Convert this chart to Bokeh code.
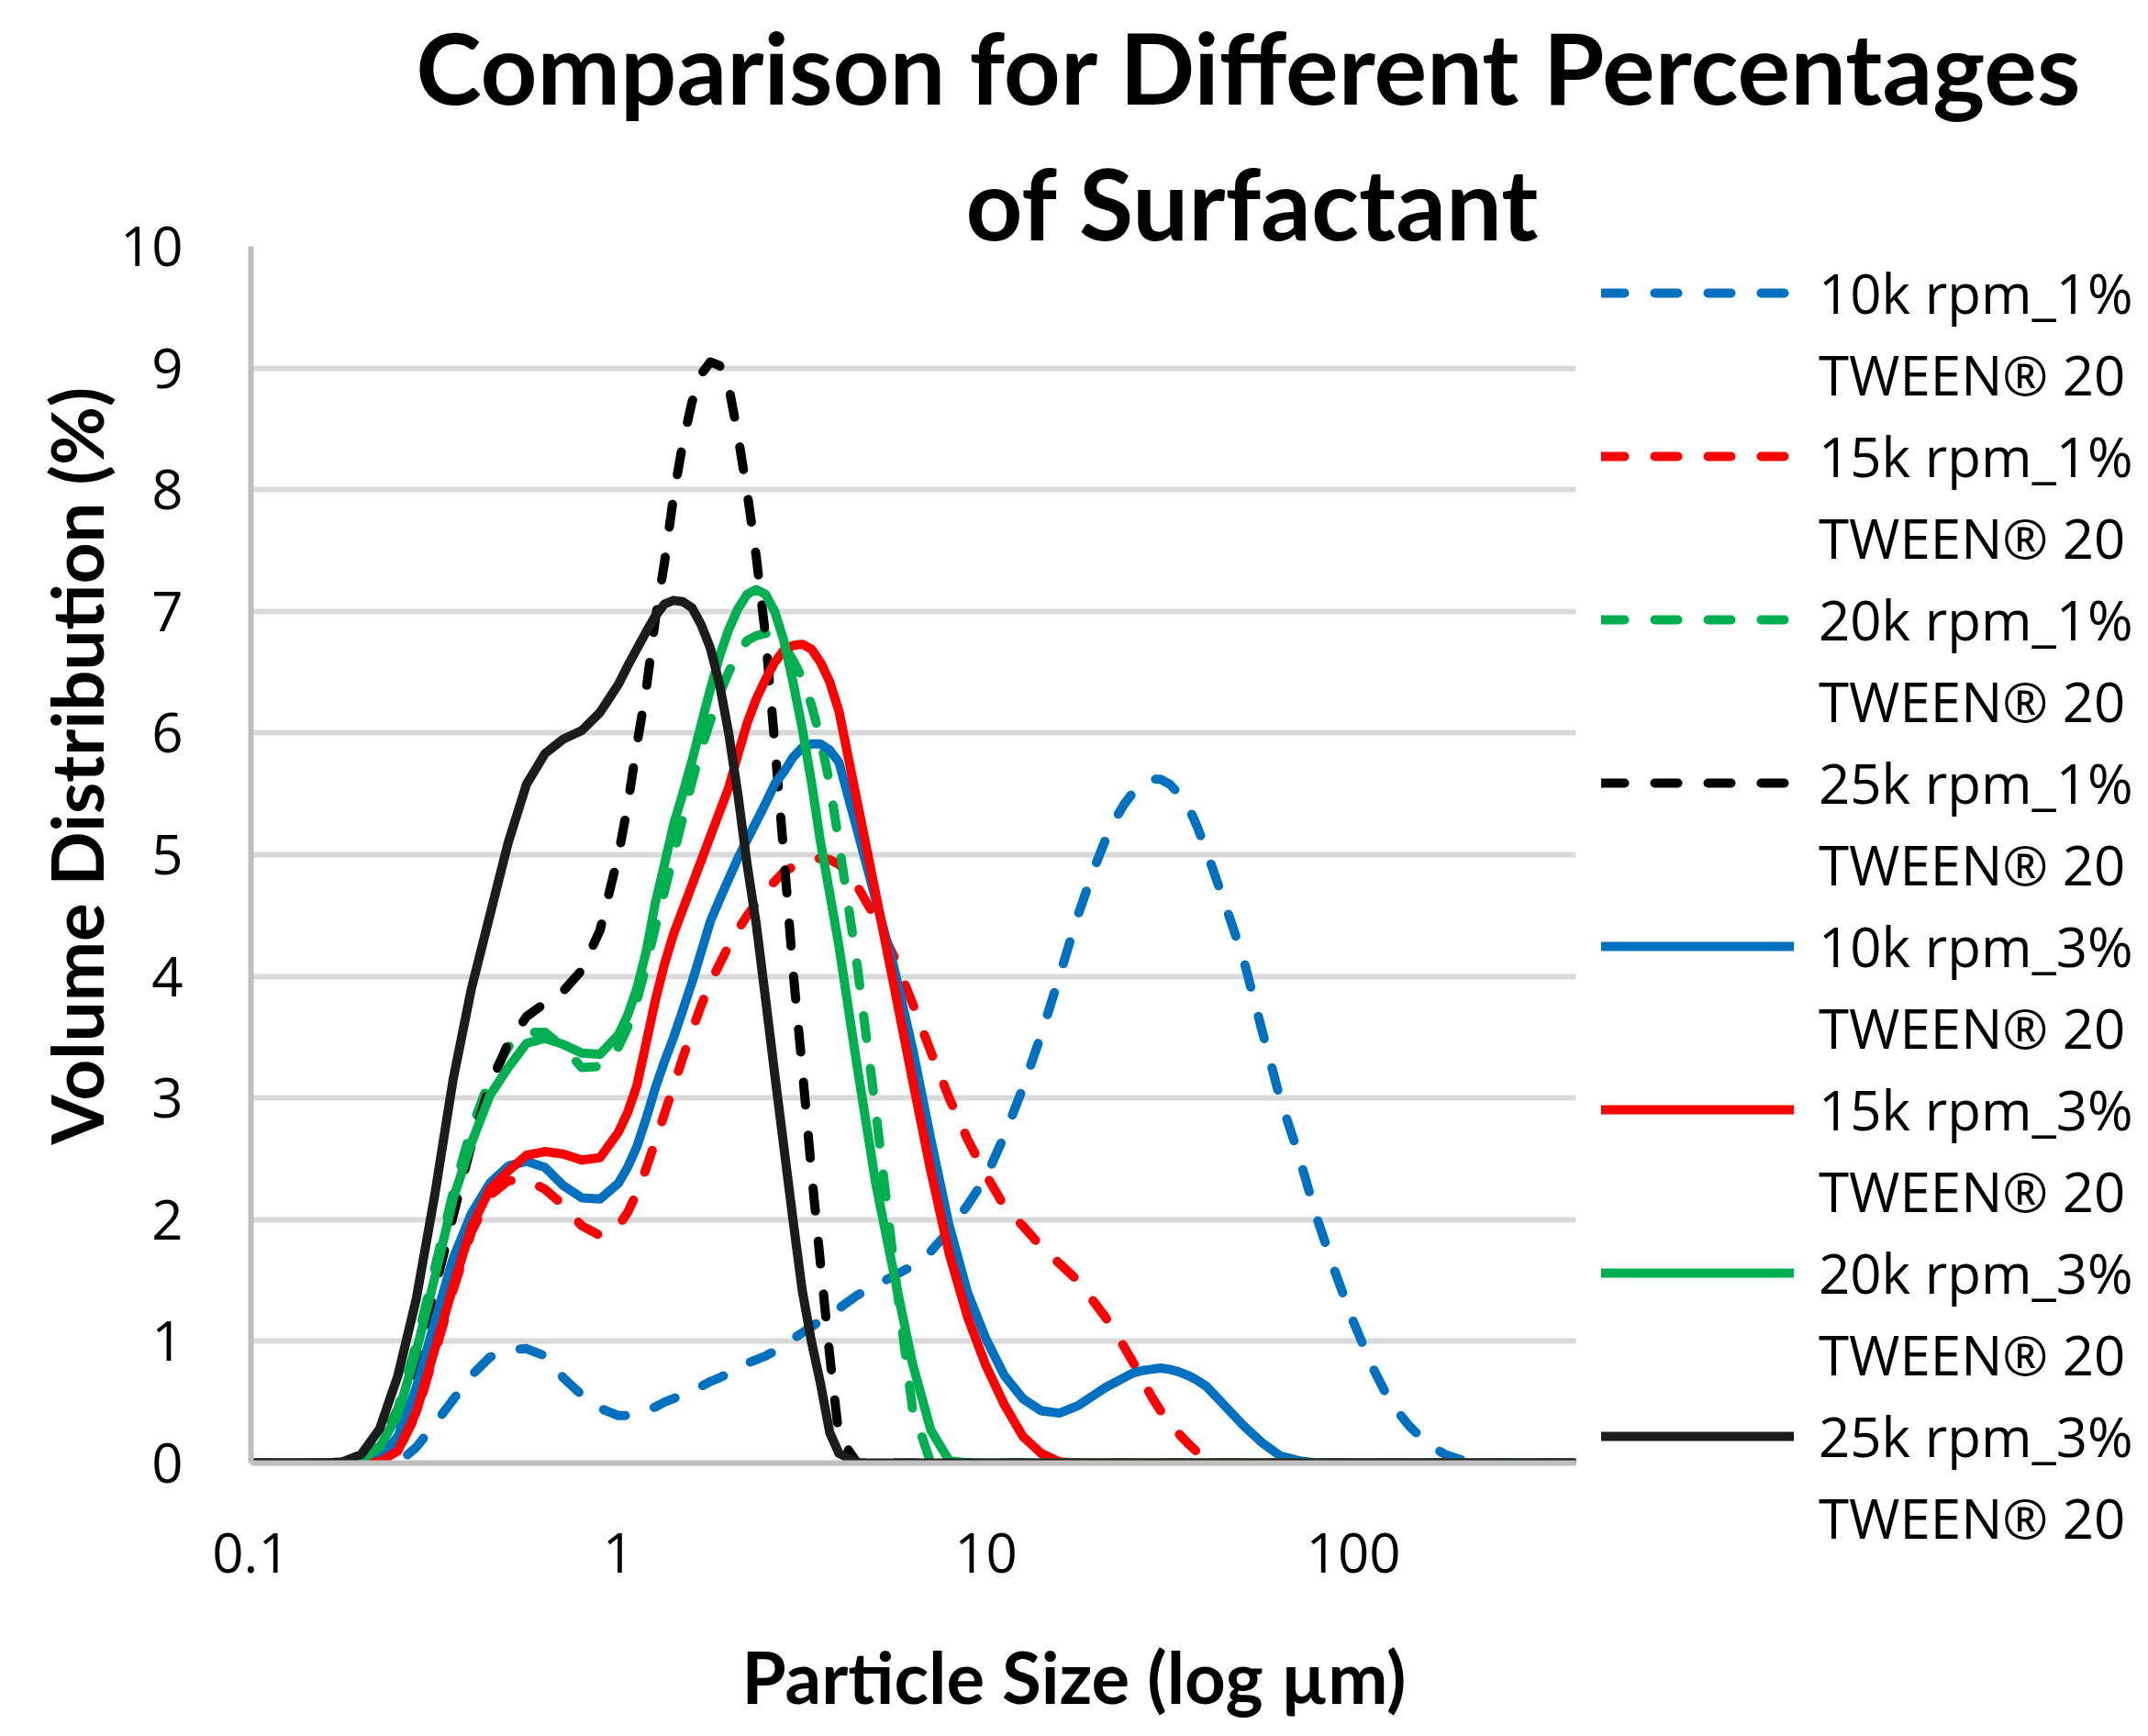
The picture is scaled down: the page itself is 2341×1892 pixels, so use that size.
from bokeh.plotting import figure
from bokeh.layouts import column, row
from bokeh.models import Legend, LegendItem, Title, Label, FixedTicker, Range1d
from bokeh.embed import file_html
from bokeh.resources import INLINE

# ---------------- data ----------------
sizes_um = [0.1, 0.1122, 0.1259, 0.1413, 0.1585, 0.1778, 0.1995, 0.2239, 0.2512, 0.2818,
            0.3162, 0.3548, 0.3981, 0.4467, 0.5012, 0.5623, 0.631, 0.7079, 0.7943, 0.8913,
            1.0, 1.059, 1.122, 1.189, 1.259, 1.334, 1.413, 1.496, 1.585, 1.679,
            1.778, 1.884, 1.995, 2.113, 2.239, 2.371, 2.512, 2.661, 2.818, 2.985,
            3.162, 3.35, 3.548, 3.758, 3.981, 4.467, 5.012, 5.623, 6.31, 7.079,
            7.943, 8.913, 10.0, 11.22, 12.59, 14.13, 15.85, 17.78, 19.95, 21.13,
            22.39, 23.71, 25.12, 26.61, 28.18, 29.85, 31.62, 33.5, 35.48, 37.58,
            39.81, 44.67, 50.12, 56.23, 63.1, 70.79, 79.43, 89.13, 100.0, 112.2,
            125.9, 141.3, 158.5, 177.8, 199.5, 223.9, 251.2, 281.8, 316.2, 354.8,
            398.1]

rpm10k_1pct = [0, 0, 0, 0, 0, 0, 0, 0, 0, 0.13,
               0.32, 0.52, 0.72, 0.87, 0.93, 0.94, 0.88, 0.7, 0.56, 0.45,
               0.39, 0.39, 0.4, 0.43, 0.46, 0.5, 0.53, 0.56, 0.6, 0.63,
               0.67, 0.7, 0.74, 0.78, 0.82, 0.85, 0.88, 0.92, 0.97, 1.02,
               1.07, 1.12, 1.17, 1.22, 1.27, 1.38, 1.46, 1.54, 1.62, 1.74,
               1.91, 2.12, 2.35, 2.69, 3.08, 3.52, 4.0, 4.5, 4.93, 5.12,
               5.28, 5.41, 5.51, 5.58, 5.62, 5.62, 5.58, 5.5, 5.4, 5.23,
               5.03, 4.6, 4.15, 3.57, 3.0, 2.54, 2.02, 1.57, 1.16, 0.8,
               0.5, 0.31, 0.16, 0.07, 0.02, 0, 0, 0, 0, 0,
               0]

rpm15k_1pct = [0, 0, 0, 0, 0, 0, 0, 0.01, 0.1, 0.4,
               0.9, 1.42, 1.9, 2.2, 2.32, 2.33, 2.25, 2.12, 1.95, 1.87,
               1.95, 2.06, 2.22, 2.42, 2.64, 2.87, 3.1, 3.33, 3.55, 3.76,
               3.95, 4.1, 4.25, 4.38, 4.5, 4.6, 4.7, 4.78, 4.86, 4.9,
               4.94, 4.96, 4.97, 4.96, 4.92, 4.74, 4.48, 4.16, 3.78, 3.38,
               3.0, 2.66, 2.37, 2.11, 1.95, 1.78, 1.64, 1.5, 1.3, 1.2,
               1.08, 0.96, 0.83, 0.69, 0.55, 0.43, 0.33, 0.24, 0.16, 0.09,
               0.04, 0, 0, 0, 0, 0, 0, 0, 0, 0,
               0, 0, 0, 0, 0, 0, 0, 0, 0, 0,
               0]

rpm20k_1pct = [0, 0, 0, 0, 0, 0, 0.03, 0.15, 0.45, 0.98,
               1.6, 2.22, 2.75, 3.15, 3.42, 3.54, 3.54, 3.42, 3.25, 3.26,
               3.42, 3.58, 3.8, 4.08, 4.4, 4.7, 5.0, 5.3, 5.6, 5.87,
               6.1, 6.32, 6.5, 6.65, 6.76, 6.8, 6.82, 6.78, 6.72, 6.6,
               6.45, 6.23, 5.95, 5.58, 5.1, 4.08, 2.9, 1.62, 0.45, 0,
               0, 0, 0, 0, 0, 0, 0, 0, 0, 0,
               0, 0, 0, 0, 0, 0, 0, 0, 0, 0,
               0, 0, 0, 0, 0, 0, 0, 0, 0, 0,
               0, 0, 0, 0, 0, 0, 0, 0, 0, 0,
               0]

rpm25k_1pct = [0, 0, 0, 0, 0, 0, 0.01, 0.12, 0.4, 0.84,
               1.42, 2.03, 2.62, 3.1, 3.45, 3.67, 3.78, 3.88, 4.05, 4.38,
               5.0, 5.4, 5.9, 6.35, 6.93, 7.4, 7.95, 8.38, 8.72, 8.95,
               9.05, 9.02, 8.85, 8.45, 7.98, 7.45, 6.8, 5.92, 5.0, 4.05,
               3.25, 2.4, 1.63, 0.88, 0.22, 0, 0, 0, 0, 0,
               0, 0, 0, 0, 0, 0, 0, 0, 0, 0,
               0, 0, 0, 0, 0, 0, 0, 0, 0, 0,
               0, 0, 0, 0, 0, 0, 0, 0, 0, 0,
               0, 0, 0, 0, 0, 0, 0, 0, 0, 0,
               0]

rpm10k_3pct = [0, 0, 0, 0, 0, 0, 0, 0.04, 0.22, 0.62,
               1.16, 1.68, 2.05, 2.3, 2.44, 2.48, 2.43, 2.28, 2.18, 2.17,
               2.3, 2.43, 2.6, 2.83, 3.08, 3.3, 3.5, 3.72, 3.95, 4.2,
               4.45, 4.63, 4.8, 4.97, 5.12, 5.27, 5.42, 5.58, 5.68, 5.8,
               5.88, 5.91, 5.91, 5.86, 5.76, 5.2, 4.63, 4.07, 3.41, 2.66,
               1.95, 1.4, 1.02, 0.72, 0.53, 0.43, 0.41, 0.47, 0.57, 0.62,
               0.66, 0.7, 0.74, 0.76, 0.77, 0.78, 0.77, 0.75, 0.72, 0.68,
               0.63, 0.47, 0.31, 0.17, 0.06, 0.02, 0, 0, 0, 0,
               0, 0, 0, 0, 0, 0, 0, 0, 0, 0,
               0]

rpm15k_3pct = [0, 0, 0, 0, 0, 0, 0, 0.01, 0.1, 0.42,
               0.93, 1.45, 1.94, 2.25, 2.4, 2.53, 2.56, 2.54, 2.49, 2.51,
               2.72, 2.88, 3.1, 3.45, 3.8, 4.1, 4.35, 4.55, 4.75, 4.95,
               5.15, 5.35, 5.55, 5.82, 6.08, 6.28, 6.44, 6.58, 6.68, 6.72,
               6.73, 6.69, 6.58, 6.42, 6.18, 5.43, 4.68, 3.92, 3.15, 2.4,
               1.72, 1.2, 0.8, 0.48, 0.22, 0.08, 0.01, 0, 0, 0,
               0, 0, 0, 0, 0, 0, 0, 0, 0, 0,
               0, 0, 0, 0, 0, 0, 0, 0, 0, 0,
               0, 0, 0, 0, 0, 0, 0, 0, 0, 0,
               0]

rpm20k_3pct = [0, 0, 0, 0, 0, 0, 0.02, 0.13, 0.4, 0.92,
               1.52, 2.17, 2.63, 3.02, 3.25, 3.45, 3.49, 3.44, 3.37, 3.36,
               3.52, 3.68, 3.9, 4.2, 4.6, 4.92, 5.25, 5.5, 5.77, 6.07,
               6.36, 6.63, 6.85, 7.02, 7.14, 7.18, 7.14, 7.0, 6.76, 6.42,
               6.04, 5.6, 5.1, 4.68, 4.25, 3.25, 2.3, 1.55, 0.82, 0.27,
               0.02, 0, 0, 0, 0, 0, 0, 0, 0, 0,
               0, 0, 0, 0, 0, 0, 0, 0, 0, 0,
               0, 0, 0, 0, 0, 0, 0, 0, 0, 0,
               0, 0, 0, 0, 0, 0, 0, 0, 0, 0,
               0]

rpm25k_3pct = [0, 0, 0, 0, 0, 0.01, 0.07, 0.28, 0.72, 1.35,
               2.2, 3.15, 3.9, 4.5, 5.1, 5.58, 5.83, 5.95, 6.02, 6.17,
               6.4, 6.55, 6.69, 6.83, 6.96, 7.06, 7.09, 7.08, 7.03, 6.89,
               6.7, 6.4, 6.0, 5.5, 4.92, 4.43, 3.82, 3.2, 2.6, 2.0,
               1.42, 1.0, 0.65, 0.25, 0.08, 0, 0, 0, 0, 0,
               0, 0, 0, 0, 0, 0, 0, 0, 0, 0,
               0, 0, 0, 0, 0, 0, 0, 0, 0, 0,
               0, 0, 0, 0, 0, 0, 0, 0, 0, 0,
               0, 0, 0, 0, 0, 0, 0, 0, 0, 0,
               0]

series_names = ["10k rpm_1%", "15k rpm_1%", "20k rpm_1%", "25k rpm_1%",
                "10k rpm_3%", "15k rpm_3%", "20k rpm_3%", "25k rpm_3%"]
surfactant = "TWEEN® 20"
x_ticks = [0.1, 1, 10, 100]
x_tick_labels = ["0.1", "1", "10", "100"]
y_ticks = [0, 1, 2, 3, 4, 5, 6, 7, 8, 9, 10]
title_lines = ["Comparison for Different Percentages", "of Surfactant"]
x_title = "Particle Size (log µm)"
y_title = "Volume Distribution (%)"

# ---------------- layout (page pixels) ----------------
PAGE_W, PAGE_H = 2333, 1892
TOP_H = 140                     # strip holding the first title line
FL, FR, FT, FB = 273, 1717, 268, 1594   # plot frame edges on the page
MAIN_W = 1728
BODY_H = PAGE_H - TOP_H
LEG_W = PAGE_W - MAIN_W
X0, X1 = 0.1, 403.0
LW = 10

FONT = "Open Sans"
TFONT = "Lato"

styles = [
    (rpm10k_1pct, "#0070C0", "25 33"),
    (rpm15k_1pct, "#FF0000", "25 33"),
    (rpm20k_1pct, "#00B050", "25 33"),
    (rpm25k_1pct, "#000000", "25 33"),
    (rpm10k_3pct, "#0070C0", "solid"),
    (rpm15k_3pct, "#FF0000", "solid"),
    (rpm20k_3pct, "#00B050", "solid"),
    (rpm25k_3pct, "#1C1C1C", "solid"),
]
for vals, _, _ in styles:
    if len(vals) != len(sizes_um):
        raise ValueError("series length mismatch")


def no_frame_align(fig):
    try:
        fig.frame_align = False
    except AttributeError:
        pass


# ---- title strip (first line) ----
top = figure(width=PAGE_W, height=TOP_H, x_range=Range1d(0, PAGE_W), y_range=Range1d(TOP_H, 0),
             x_axis_location=None, y_axis_location=None, min_border=0,
             output_backend="svg", toolbar_location=None)
top.outline_line_color = None
top.xgrid.visible = False
top.ygrid.visible = False
top.add_layout(Label(x=1361, y=110 - 39, text=title_lines[0], text_align="center",
                     text_baseline="alphabetic", text_font=TFONT, text_font_style="bold",
                     text_font_size="108px", text_color="black"))
no_frame_align(top)

# ---- main plot ----
p = figure(width=MAIN_W, height=BODY_H, x_axis_type="log",
           x_range=Range1d(X0, X1), y_range=Range1d(0, 10),
           output_backend="svg", toolbar_location=None,
           min_border_left=FL, min_border_right=MAIN_W - FR,
           min_border_top=FT - TOP_H, min_border_bottom=PAGE_H - FB)
p.outline_line_color = None
no_frame_align(p)

p.xaxis.ticker = FixedTicker(ticks=x_ticks)
p.xaxis.major_label_overrides = {t: s for t, s in zip(x_ticks, x_tick_labels)}
p.yaxis.ticker = FixedTicker(ticks=y_ticks)
for ax in (p.xaxis, p.yaxis):
    ax.axis_line_color = "#BFBFBF"
    ax.axis_line_width = 6
    ax.major_tick_line_color = None
    ax.minor_tick_line_color = None
    ax.major_label_text_font = FONT
    ax.major_label_text_font_size = "60px"
    ax.major_label_text_color = "black"
p.xaxis.major_label_standoff = 70
p.yaxis.major_label_standoff = 68
p.xgrid.visible = False
p.ygrid.ticker = FixedTicker(ticks=y_ticks)
p.ygrid.grid_line_color = "#D9D9D9"
p.ygrid.grid_line_width = 6

for vals, col, dash in styles:
    p.line(sizes_um, vals, line_color=col, line_width=LW, line_dash=dash,
           line_cap="round", line_join="round")

# second title line, above the frame
p.add_layout(Title(text=title_lines[1], align="left", offset=1052 - FL,
                   text_font=TFONT, text_font_style="bold", text_font_size="108px",
                   text_color="black", standoff=-32), "above")
# axis titles (offset from frame edges)
p.add_layout(Title(text=" ", text_font_size="1px", standoff=58), "below")
p.add_layout(Title(text=x_title, align="left", offset=808 - FL,
                   text_font=TFONT, text_font_style="bold", text_font_size="78px",
                   text_color="black", standoff=0), "below")
p.add_layout(Title(text=y_title, align="left", offset=FB - 1247,
                   text_font=TFONT, text_font_style="bold", text_font_size="78px",
                   text_color="black", standoff=-4), "left")

# ---- legend panel ----
LEG_TOP = 277
lg = figure(width=LEG_W, height=BODY_H, x_range=Range1d(-2, -1), y_range=Range1d(-2, -1),
            x_axis_location=None, y_axis_location=None,
            min_border_left=0, min_border_right=0, min_border_bottom=0,
            min_border_top=(LEG_TOP - 17) - TOP_H,
            output_backend="svg", toolbar_location=None)
lg.outline_line_color = None
lg.xgrid.visible = False
lg.ygrid.visible = False
no_frame_align(lg)
blank = lg.line(x=[], y=[], line_alpha=0)
items = []
for (vals, col, dash), name in zip(styles, series_names):
    # series drawn again here (outside this panel's view) only to provide legend keys
    key = lg.line(sizes_um, vals, line_color=col, line_width=LW, line_dash=dash,
                  line_cap="round", line_join="round")
    items.append(LegendItem(label=name, renderers=[key]))
    items.append(LegendItem(label=surfactant, renderers=[blank]))

ITEM_H, GAP = 84, 5
legend = Legend(items=items, location="top_left", orientation="vertical",
                glyph_width=210, glyph_height=ITEM_H, label_height=ITEM_H, spacing=GAP,
                padding=0, margin=17, label_standoff=27,
                label_text_font=FONT, label_text_font_size="60px",
                label_text_color="black",
                border_line_color=None, background_fill_alpha=0)
lg.add_layout(legend, "center")

layout = column(top, row(p, lg, spacing=0), spacing=0)
open("out.html", "w").write(file_html(layout, INLINE))
